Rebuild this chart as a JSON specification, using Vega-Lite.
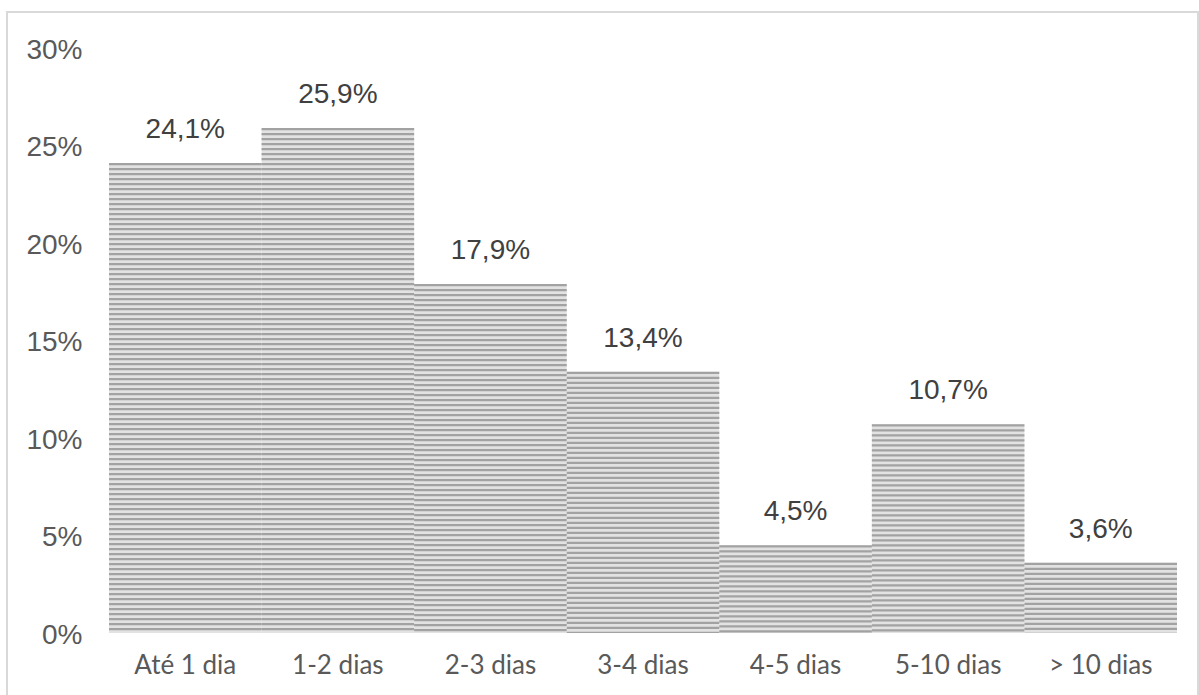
{
  "$schema": "https://vega.github.io/schema/vega-lite/v6.json",
  "autosize": "none",
  "width": 1191,
  "height": 684,
  "padding": {"left": 7, "top": 12, "right": 1, "bottom": -1},
  "background": "#ffffff",
  "config": {
    "locale": {
      "number": {"decimal": ",", "thousands": ".", "grouping": [3], "currency": ["R$", ""]}
    },
    "view": {"stroke": "#d9d9d9", "strokeWidth": 2}
  },
  "data": {
    "values": [
      {"faixa": "Até 1 dia", "pct": 0.241},
      {"faixa": "1-2 dias", "pct": 0.259},
      {"faixa": "2-3 dias", "pct": 0.179},
      {"faixa": "3-4 dias", "pct": 0.134},
      {"faixa": "4-5 dias", "pct": 0.045},
      {"faixa": "5-10 dias", "pct": 0.107},
      {"faixa": "> 10 dias", "pct": 0.036}
    ]
  },
  "encoding": {
    "x": {
      "field": "faixa",
      "type": "nominal",
      "sort": null,
      "scale": {"range": [102, 1170], "paddingInner": 0, "paddingOuter": 0},
      "axis": {
        "title": null,
        "domain": false,
        "ticks": false,
        "labelAngle": 0,
        "labelFont": "Lato",
        "labelFontSize": 26,
        "labelColor": "#595959",
        "labelPadding": 19,
        "offset": -63
      }
    },
    "y": {
      "field": "pct",
      "type": "quantitative",
      "scale": {"domain": [0, 0.3], "range": [621, 36], "nice": false},
      "axis": {
        "title": null,
        "format": ".0%",
        "values": [0, 0.05, 0.1, 0.15, 0.2, 0.25, 0.3],
        "domain": false,
        "ticks": false,
        "grid": false,
        "labelFont": "Liberation Sans",
        "labelFontSize": 28,
        "labelColor": "#595959",
        "labelPadding": 0,
        "labelOffset": 2,
        "offset": -75
      }
    }
  },
  "layer": [
    {
      "mark": {"type": "bar", "fill": "#e2e2e2", "stroke": null}
    },
    {
      "mark": {"type": "rule", "stroke": "#a2a2a2", "strokeWidth": 152.57, "strokeDash": [2.2, 2.8], "strokeCap": "butt"},
      "encoding": {
        "y2": {"datum": 0}
      }
    },
    {
      "mark": {"type": "text", "font": "Liberation Sans", "fontSize": 28, "color": "#404040", "baseline": "alphabetic", "dy": -25},
      "encoding": {
        "text": {"field": "pct", "type": "quantitative", "format": ".1%"}
      }
    }
  ]
}
